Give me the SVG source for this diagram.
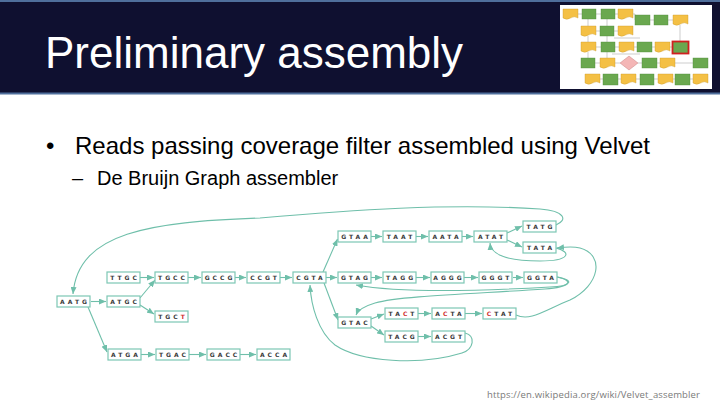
<svg xmlns="http://www.w3.org/2000/svg" width="720" height="405" viewBox="0 0 720 405">
<style>
.nd rect{fill:#fff;stroke:#7cc7b4;stroke-width:1.2}
.nd text{font-family:"DejaVu Sans",sans-serif;font-size:6px;font-weight:bold;fill:#3a3a3a;letter-spacing:3px;text-anchor:middle}
.r{fill:#d03030}
.e{fill:none;stroke:#6fbfaa;stroke-width:1.1;marker-end:url(#ah)}
.y{fill:#f4c045;stroke:#c99a2a;stroke-width:0.4}
.g{fill:#6aa84f;stroke:#4f8a3a;stroke-width:0.4}
.tl{stroke:#9a9a9a;stroke-width:0.5;fill:none}
</style>
<defs>
<marker id="ah" markerUnits="userSpaceOnUse" markerWidth="7" markerHeight="6" refX="7" refY="3" orient="auto"><path d="M0,0 L7,3 L0,6 z" fill="#6fbfaa"/></marker>
<path id="doc" d="M0,0 h15 v9 q-3.75,-2.5 -7.5,0 t-7.5,0 z"/>
</defs>
<rect width="720" height="405" fill="#fff"/>
<g id="titlebar">
<rect x="0" y="0" width="720" height="94" fill="#0f1030"/>
<line x1="0" y1="1" x2="720" y2="1" stroke="#4f6f9c" stroke-width="2"/>
<line x1="0" y1="93.5" x2="720" y2="93.5" stroke="#4f6f9c" stroke-width="2"/>
<text x="45" y="68" font-family="Liberation Sans, Arial, sans-serif" font-size="44" fill="#fff">Preliminary assembly</text>
</g>
<g id="thumbnail">
<rect x="560" y="5" width="152" height="84" fill="#fff"/>
<g class="tl">
<path d="M578,14 H582 M596,14 H601 M615,14 H618 M632,14 H635 V20 M650,20 H654 M668,20 H673 M680,25 V41"/>
<path d="M596,31 H600 M614,31 H618 M588,19 V26 M607,19 V26 M588,36 V42 M607,36 V42"/>
<path d="M596,47 H601 M615,47 H619 M634,47 H637 M652,47 H655 M670,47 H672 M607,52 V58 M612,54 H640 M588,52 V58"/>
<path d="M595,63 H600 M615,63 H620 M638,63 H642 M657,63 H660 M675,63 H693 M614,38 H640"/>
<path d="M600,79 H603 M618,79 H621 M636,79 H640 M654,79 H658 M672,79 H675 M690,79 H693"/>
</g>
<use href="#doc" x="563" y="9" class="y"/>
<rect x="582" y="9" width="14" height="10" class="g"/>
<rect x="601" y="9" width="14" height="10" class="g"/>
<use href="#doc" x="618" y="9" class="y"/>
<rect x="635" y="15" width="15" height="10" class="g"/>
<rect x="654" y="15" width="14" height="10" class="g"/>
<use href="#doc" x="673" y="15" class="y"/>
<use href="#doc" x="581" y="26" class="y"/>
<rect x="600" y="26" width="14" height="10" class="g"/>
<use href="#doc" x="618" y="26" class="y"/>
<use href="#doc" x="581" y="42" class="y"/>
<rect x="601" y="42" width="14" height="10" class="g"/>
<use href="#doc" x="619" y="42" class="y"/>
<rect x="637" y="42" width="15" height="10" class="g"/>
<use href="#doc" x="655" y="42" class="y"/>
<rect x="672.5" y="41.5" width="16" height="12" fill="#6aa84f" stroke="#d02020" stroke-width="1.8"/>
<rect x="581" y="58" width="14" height="10" class="g"/>
<use href="#doc" x="600" y="58" class="y"/>
<path d="M629,56 L638,63 L629,70 L620,63 z" fill="#f4b6b6" stroke="#c07070" stroke-width="0.4"/>
<rect x="642" y="58" width="15" height="10" class="g"/>
<use href="#doc" x="660" y="58" class="y"/>
<rect x="693" y="58" width="15" height="10" class="g"/>
<use href="#doc" x="585" y="74" class="y"/>
<rect x="603" y="74" width="15" height="11" class="g"/>
<use href="#doc" x="621" y="74" class="y"/>
<rect x="640" y="74" width="14" height="11" class="g"/>
<use href="#doc" x="658" y="74" class="y"/>
<rect x="675" y="74" width="15" height="11" class="g"/>
<use href="#doc" x="693" y="74" class="y"/>
</g>
<g id="bullets" font-family="Liberation Sans, Arial, sans-serif" fill="#000">
<text x="46" y="154" font-size="24">•</text>
<text x="75" y="154" font-size="24">Reads passing coverage filter assembled using Velvet</text>
<text x="72" y="185" font-size="20">–</text>
<text x="97" y="185" font-size="20">De Bruijn Graph assembler</text>
</g>
<g id="connectors">
<path class="e" d="M91,301.5 H106"/>
<path class="e" d="M140,277.5 H154"/>
<path class="e" d="M188,277.5 H201"/>
<path class="e" d="M235,277.5 H246"/>
<path class="e" d="M280,277.5 H292"/>
<path class="e" d="M140,298 L155,280"/>
<path class="e" d="M140,305 L154,314"/>
<path class="e" d="M88,307 L107,352"/>
<path class="e" d="M141,354.5 H155"/>
<path class="e" d="M189,354.5 H206"/>
<path class="e" d="M240,354.5 H256"/>
<path class="e" d="M323,272 L337.5,239"/>
<path class="e" d="M326,277.5 H337"/>
<path class="e" d="M324,283 L338,320"/>
<path class="e" d="M371,236.5 H382"/>
<path class="e" d="M416,236.5 H428"/>
<path class="e" d="M462,236.5 H473"/>
<path class="e" d="M507,233 L522,226"/>
<path class="e" d="M507,240 L522,247"/>
<path class="e" d="M371,277.5 H382"/>
<path class="e" d="M416,277.5 H430"/>
<path class="e" d="M464,277.5 H478"/>
<path class="e" d="M513,277.5 H523"/>
<path class="e" d="M371,319 L384,314"/>
<path class="e" d="M371,326 L384,335"/>
<path class="e" d="M418,313.5 H431"/>
<path class="e" d="M465,313.5 H482"/>
<path class="e" d="M418,336.5 H431"/>
<path class="e" d="M556,225 C568,220 565,211 540,209 C450,203 350,210 260,218 C150,222 78,232 73,294"/>
<path class="e" d="M556,248 C572,252 570,261 540,261 C510,261 491,256 490,243"/>
<path class="e" d="M516,315 C530,322 545,310 570,300 C600,285 605,255 580,248 C572,246 565,247 557,248"/>
<path class="e" d="M557,277 C575,280 572,286 550,287 C480,291 400,293 356,285"/>
<path class="e" d="M557,277 C575,281 570,287 545,289 C470,294 400,296 375,303 C365,306 358,310 356,315"/>
<path class="e" d="M465,333 C476,336 474,349 462,353 C420,366 360,362 335,345 C318,332 311,305 310,285"/>
</g>
<g class="nd" id="n-AATG"><rect x="57" y="296" width="33" height="11"/><text x="75" y="303.8">AATG</text></g>
<g class="nd" id="n-ATGC"><rect x="107" y="296" width="33" height="11"/><text x="125" y="303.8">ATGC</text></g>
<g class="nd" id="n-TTGC"><rect x="107" y="272" width="33" height="11"/><text x="125" y="279.8">TTGC</text></g>
<g class="nd" id="n-TGCC"><rect x="155" y="272" width="33" height="11"/><text x="173" y="279.8">TGCC</text></g>
<g class="nd" id="n-GCCG"><rect x="202" y="272" width="33" height="11"/><text x="220" y="279.8">GCCG</text></g>
<g class="nd" id="n-CCGT"><rect x="247" y="272" width="33" height="11"/><text x="265" y="279.8">CCGT</text></g>
<g class="nd" id="n-CGTA"><rect x="293" y="272" width="33" height="11"/><text x="311" y="279.8">CGTA</text></g>
<g class="nd" id="n-TGCT"><rect x="155" y="311" width="33" height="11"/><text x="173" y="318.8">TGC<tspan class="r">T</tspan></text></g>
<g class="nd" id="n-ATGA"><rect x="108" y="349" width="33" height="11"/><text x="126" y="356.8">ATGA</text></g>
<g class="nd" id="n-TGAC"><rect x="156" y="349" width="33" height="11"/><text x="174" y="356.8">TGAC</text></g>
<g class="nd" id="n-GACC"><rect x="207" y="349" width="33" height="11"/><text x="225" y="356.8">GACC</text></g>
<g class="nd" id="n-ACCA"><rect x="257" y="349" width="33" height="11"/><text x="275" y="356.8">ACCA</text></g>
<g class="nd" id="n-GTAA"><rect x="338" y="231" width="33" height="11"/><text x="356" y="238.8">GTAA</text></g>
<g class="nd" id="n-TAAT"><rect x="383" y="231" width="33" height="11"/><text x="401" y="238.8">TAAT</text></g>
<g class="nd" id="n-AATA"><rect x="429" y="231" width="33" height="11"/><text x="447" y="238.8">AATA</text></g>
<g class="nd" id="n-ATAT"><rect x="474" y="231" width="33" height="11"/><text x="492" y="238.8">ATAT</text></g>
<g class="nd" id="n-TATG"><rect x="523" y="221" width="33" height="11"/><text x="541" y="228.8">TATG</text></g>
<g class="nd" id="n-TATA"><rect x="523" y="242" width="33" height="11"/><text x="541" y="249.8">TATA</text></g>
<g class="nd" id="n-GTAG"><rect x="338" y="272" width="33" height="11"/><text x="356" y="279.8">GTAG</text></g>
<g class="nd" id="n-TAGG"><rect x="383" y="272" width="33" height="11"/><text x="401" y="279.8">TAGG</text></g>
<g class="nd" id="n-AGGG"><rect x="431" y="272" width="33" height="11"/><text x="449" y="279.8">AGGG</text></g>
<g class="nd" id="n-GGGT"><rect x="479" y="272" width="33" height="11"/><text x="497" y="279.8">GGGT</text></g>
<g class="nd" id="n-GGTA"><rect x="524" y="272" width="33" height="11"/><text x="542" y="279.8">GGTA</text></g>
<g class="nd" id="n-GTAC"><rect x="338" y="317" width="33" height="11"/><text x="356" y="324.8">GTAC</text></g>
<g class="nd" id="n-TACT"><rect x="385" y="308" width="33" height="11"/><text x="403" y="315.8">TA<tspan class="r">C</tspan>T</text></g>
<g class="nd" id="n-ACTA"><rect x="432" y="308" width="33" height="11"/><text x="450" y="315.8">A<tspan class="r">C</tspan>TA</text></g>
<g class="nd" id="n-CTAT"><rect x="483" y="308" width="33" height="11"/><text x="501" y="315.8"><tspan class="r">C</tspan>TAT</text></g>
<g class="nd" id="n-TACG"><rect x="385" y="331" width="33" height="11"/><text x="403" y="338.8">TACG</text></g>
<g class="nd" id="n-ACGT"><rect x="432" y="331" width="33" height="11"/><text x="450" y="338.8">ACGT</text></g>
<text id="source" x="487" y="398" font-family="Open Sans, sans-serif" font-size="9.5" fill="#7a7a7a" textLength="213">https://en.wikipedia.org/wiki/Velvet_assembler</text>
</svg>
